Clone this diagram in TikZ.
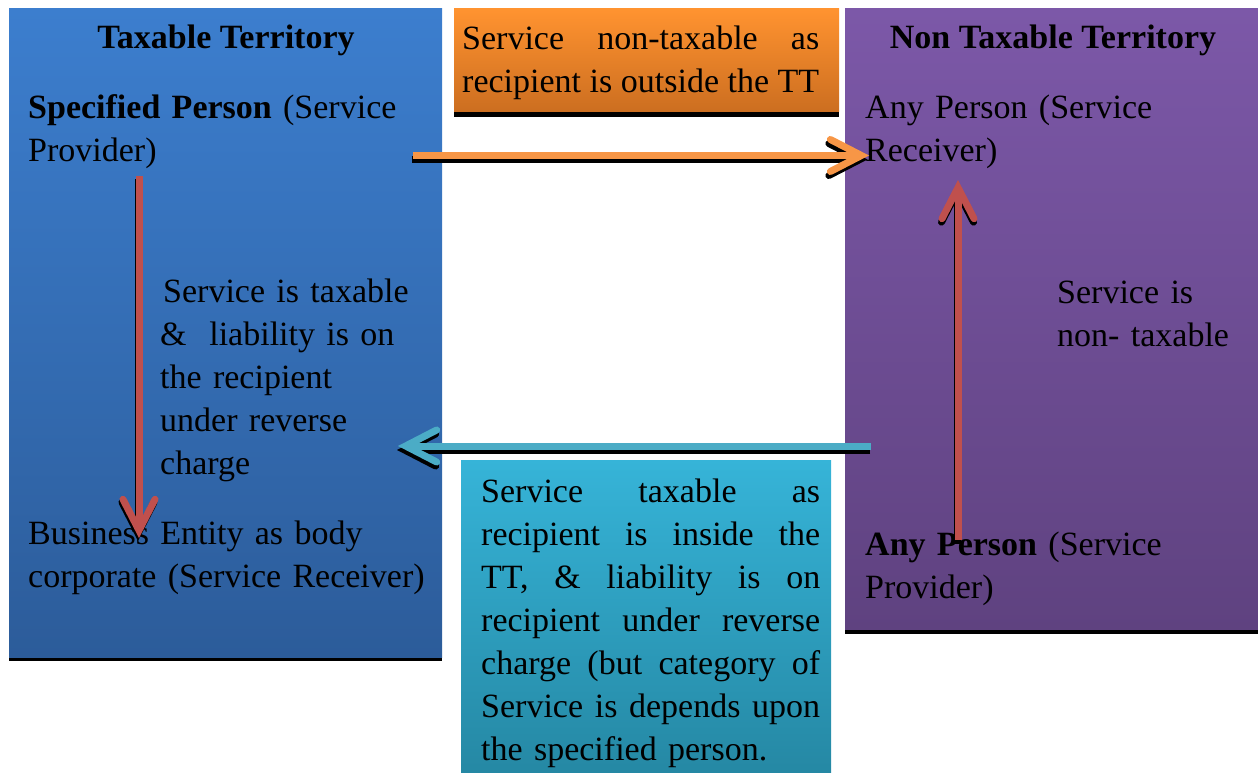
\documentclass[tikz,border=0pt]{standalone}
\usepackage{fontspec}
\setmainfont{Liberation Serif}
\usetikzlibrary{arrows.meta}

\definecolor{blueTop}{RGB}{60,126,206}
\definecolor{blueBot}{RGB}{44,92,154}
\definecolor{orangeTop}{RGB}{255,147,48}
\definecolor{orangeBot}{RGB}{204,110,32}
\definecolor{purpleTop}{RGB}{124,88,168}
\definecolor{purpleBot}{RGB}{95,66,128}
\definecolor{tealTop}{RGB}{54,180,216}
\definecolor{tealBot}{RGB}{37,136,164}
\definecolor{arrOrange}{RGB}{247,150,70}
\definecolor{arrRed}{RGB}{192,80,77}
\definecolor{arrTeal}{RGB}{75,172,198}

% a line of justified text spread over the full width of its box
\newcommand\jline[1]{\leavevmode\hbox to \linewidth{\spaceskip=\fontdimen2\font plus 1fil\relax #1}}

\begin{document}
\begin{tikzpicture}[x=1pt,y=-1pt,
  txt/.style={inner sep=0pt, anchor=base west, font=\fontsize{34}{43}\selectfont, align=left},
  head/.style={inner sep=0pt, anchor=base, font=\fontsize{34}{43}\selectfont\bfseries},
  arr/.style={line width=7pt, line cap=butt,
    -{Straight Barb[length=31pt,width=32pt,line cap=round,line join=miter]}},
  drop/.style={arr, draw=black, transform canvas={#1}}
]
\useasboundingbox (0,0) rectangle (1258,773);

% territory panels and explanation boxes, each with a dark drop edge
\fill[black] (9,652) rectangle (442,661);
\shade[top color=blueTop, bottom color=blueBot] (9,9) rectangle (442,657);

\fill[black] (454,100) rectangle (839,117);
\shade[top color=orangeTop, bottom color=orangeBot] (454,9) rectangle (839,112);

\fill[black] (845,620) rectangle (1258,634);
\shade[top color=purpleTop, bottom color=purpleBot] (845,9) rectangle (1258,629);

\shade[top color=tealTop, bottom color=tealBot] (461,460) rectangle (831,773);

% headings
\node[head] (tt) at (226,49) {Taxable Territory};
\node[head] (ntt) at (1053,49) {Non Taxable Territory};

% left panel
\node[txt, text width=410pt] (sp) at (28,119)
  {\textbf{Specified Person} (Service\\Provider)};
\node[txt, text width=270pt] (tax) at (160,302)
  {\hspace{3pt}Service is taxable\\\& \ liability is on\\the recipient\\under reverse\\charge};
\node[txt, text width=410pt] (be) at (28,544)
  {Business Entity as body\\corporate (Service Receiver)};

% right panel
\node[txt, text width=380pt] (ar) at (865,119)
  {Any Person (Service\\Receiver)};
\node[txt, text width=195pt] (nt) at (1057,303)
  {Service is\\non- taxable};
\node[txt, text width=380pt] (ap) at (865,555)
  {\textbf{Any Person} (Service\\Provider)};

% explanation boxes
\node[txt, text width=357pt] (ob) at (462,50)
  {\jline{Service non-taxable as}\\\jline{recipient is outside the TT}};
\node[txt, text width=339pt] (tb) at (481,502)
  {\jline{Service taxable as}\\
   \jline{recipient is inside the}\\
   \jline{TT, \& liability is on}\\
   \jline{recipient under reverse}\\
   \jline{charge (but category of}\\
   \jline{Service is depends upon}\\
   the specified person.};

% arrow ends
\coordinate (o1) at (413,155.5);
\coordinate (o2) at (869,155.5);
\coordinate (t1) at (871,446);
\coordinate (t2) at (398,446);
\coordinate (r1) at (139,176);
\coordinate (r2) at (139,538);
\coordinate (u1) at (958,540);
\coordinate (u2) at (958,180);

% arrows with their shadows
\draw[drop={xshift=-1.5pt,yshift=-4pt}] (o1) -- (o2);
\draw[arr, draw=arrOrange] (o1) -- (o2);

\draw[drop={xshift=-1pt,yshift=-4pt}] (t1) -- (t2);
\draw[arr, draw=arrTeal] (t1) -- (t2);

\draw[drop={xshift=-1pt,yshift=-3pt}] (r1) -- (r2);
\draw[arr, draw=arrRed] (r1) -- (r2);

\draw[drop={xshift=-0.5pt,yshift=-3.5pt}] (u1) -- (u2);
\draw[arr, draw=arrRed] (u1) -- (u2);
\end{tikzpicture}
\end{document}
